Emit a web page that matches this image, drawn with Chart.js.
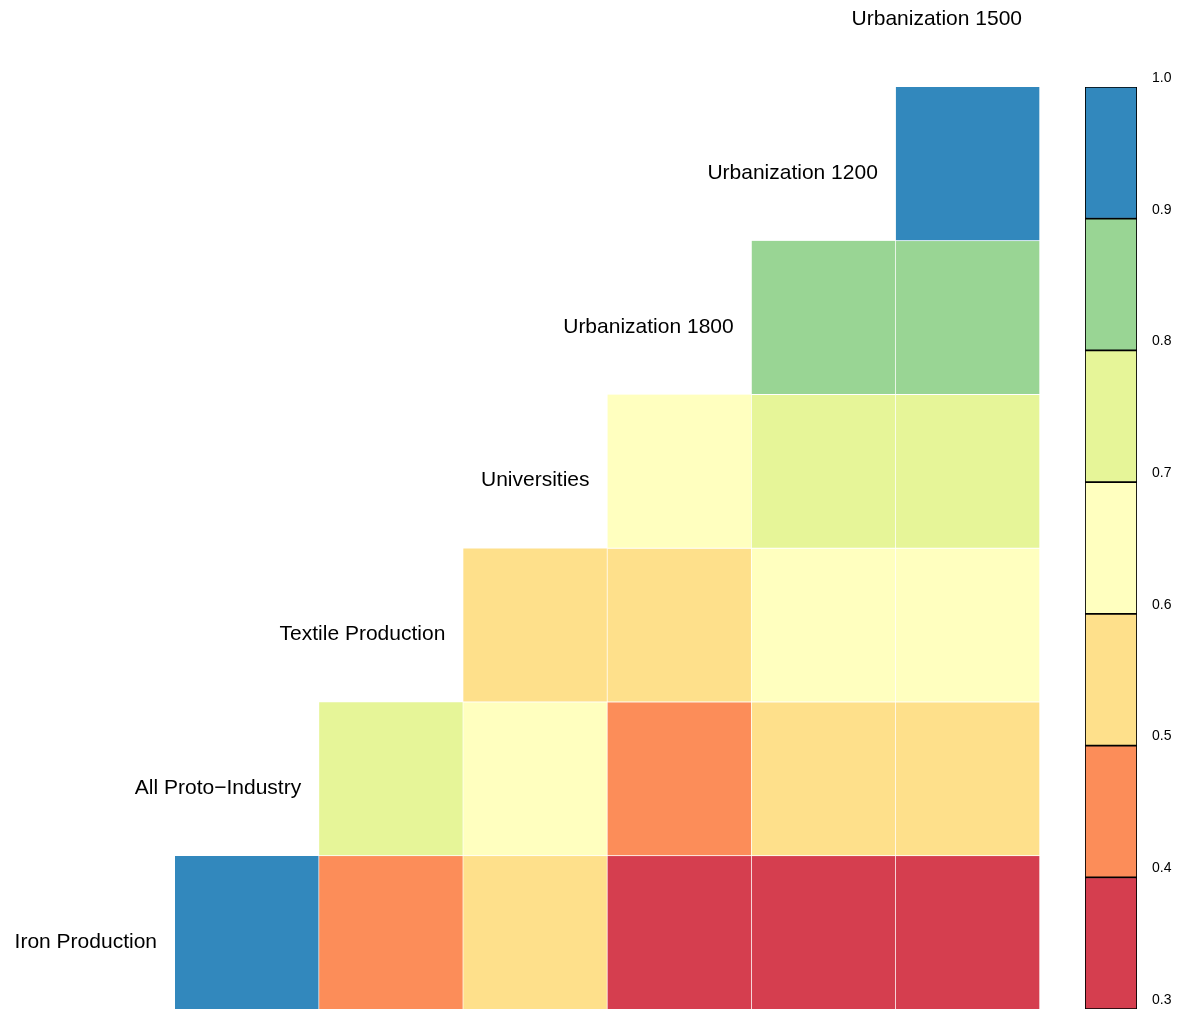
<!DOCTYPE html>
<html>
<head>
<meta charset="utf-8">
<script src="https://cdn.jsdelivr.net/npm/chart.js@4.4.1/dist/chart.umd.min.js"></script>
<style>
  html, body { margin:0; padding:0; background:#fff; }
  #wrap { position:relative; width:1192px; height:1009px; overflow:hidden; }
  #heat { position:absolute; left:0; top:0; }
  #bar  { position:absolute; left:1085px; top:0; }
</style>
</head>
<body>
<div id="wrap">
  <canvas id="heat" width="1060" height="1009"></canvas>
  <canvas id="bar" width="107" height="1009"></canvas>
</div>
<script>
/* correlation heatmap, lower triangle */

const columns = ['All Proto\u2212Industry','Textile Production','Universities','Urbanization 1800','Urbanization 1200','Urbanization 1500'];
const rowNames = ['Urbanization 1200','Urbanization 1800','Universities','Textile Production','All Proto\u2212Industry','Iron Production'];
const topLabel = 'Urbanization 1500';

// one array per row, null where the triangle is empty
const rowUrb1200   = [null, null, null, null, null, 0.93];
const rowUrb1800   = [null, null, null, null, 0.84, 0.86];
const rowUniv      = [null, null, null, 0.66, 0.74, 0.76];
const rowTextile   = [null, null, 0.55, 0.57, 0.64, 0.65];
const rowAllProto  = [null, 0.78, 0.62, 0.46, 0.54, 0.55];
const rowIron      = [0.96, 0.44, 0.52, 0.33, 0.36, 0.37];
const rows = [rowUrb1200, rowUrb1800, rowUniv, rowTextile, rowAllProto, rowIron];

const breaks  = [0.3, 0.4, 0.5, 0.6, 0.7, 0.8, 0.9, 1.0];
const palette = ['#D53E4F','#FC8D59','#FEE08B','#FFFFBF','#E6F598','#99D594','#3288BD'];

function colorFor(v) {
  for (let i = 0; i < palette.length; i++) if (v < breaks[i+1]) return palette[i];
  return palette[palette.length-1];
}

const heatSets = rows.map((vals, r) => ({
  data: vals.map(v => v == null ? null : [r, r+1]),
  backgroundColor: vals.map(v => v == null ? 'rgba(0,0,0,0)' : colorFor(v)),
  borderColor: '#fff',
  borderWidth: { top:0, left:0, right:1, bottom:1 },
  borderSkipped: false,
  categoryPercentage: 1,
  barPercentage: 1,
  stack: 'cells'
}));

const rowLabels = {
  id: 'rowLabels',
  afterDraw(chart) {
    const { ctx, scales:{ x, y } } = chart;
    const half = x.getPixelForValue(1) - x.getPixelForValue(0);
    const names = [topLabel, ...rowNames];
    ctx.save();
    ctx.font = '21px "Liberation Sans", Arial, sans-serif';
    ctx.fillStyle = '#000';
    ctx.textAlign = 'right';
    ctx.textBaseline = 'middle';
    names.forEach((name, i) => {
      const r = i - 1;
      const col = 5 - r;           // first filled column of this row
      const left = x.getPixelForValue(0) - half/2 + col*half;
      const cy = y.getPixelForValue(r + 0.5) + 9;
      ctx.fillText(name, left - 18, cy);
    });
    ctx.restore();
  }
};

new Chart(document.getElementById('heat'), {
  type: 'bar',
  data: { labels: columns, datasets: heatSets },
  options: {
    responsive: false,
    animation: false,
    layout: { padding: { left:175, right:20, top:0, bottom:0 } },
    plugins: { legend:{ display:false }, tooltip:{ enabled:false } },
    scales: {
      x: { display:false, stacked:true },
      y: { display:false, stacked:false, reverse:true, min:-0.566, max:5.995 }
    }
  },
  plugins: [rowLabels]
});

// colour key
const keySets = palette.map((c, i) => ({
  data: [[breaks[i], breaks[i+1]]],
  backgroundColor: c,
  borderColor: '#000',
  borderWidth: 1.2,
  borderSkipped: false,
  categoryPercentage: 1,
  barPercentage: 1,
  stack: 'key'
}));

new Chart(document.getElementById('bar'), {
  type: 'bar',
  data: { labels: ['key'], datasets: keySets },
  options: {
    responsive: false,
    animation: false,
    layout: { padding: { left:0, right:0, top:87, bottom:0 } },
    plugins: { legend:{ display:false }, tooltip:{ enabled:false } },
    scales: {
      x: { display:false, stacked:true },
      y: {
        position: 'right', stacked:false, min:0.3, max:1.0,
        grid: { display:false, drawTicks:false },
        border: { display:false },
        afterFit: s => { s.width = 55; s.paddingTop = 0; s.paddingBottom = 0; },
        ticks: {
          stepSize: 0.1, padding: 15, labelOffset: -9, color:'#000',
          font: { family:'"Liberation Sans", Arial, sans-serif', size:14 },
          callback: v => Number(v).toFixed(1)
        }
      }
    }
  }
});
</script>
</body>
</html>
